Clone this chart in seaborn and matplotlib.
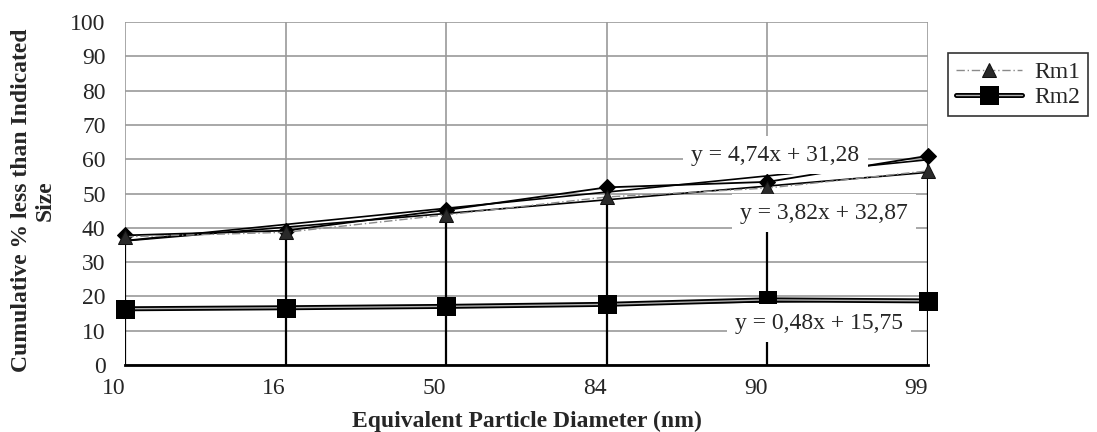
import numpy as np
import pandas as pd
import matplotlib
matplotlib.use("Agg")
import matplotlib.pyplot as plt
import matplotlib.patheffects as pe
import seaborn as sns

categories = ["10", "16", "50", "84", "90", "99"]
rm0 = [37.8, 39.2, 45.2, 51.8, 53.4, 61.0]   # diamond series (not in legend)
rm1 = [37.4, 38.7, 43.8, 49.0, 51.6, 56.6]   # triangles
rm2 = [16.4, 16.7, 17.1, 17.7, 19.0, 18.7]   # squares
eq_labels = ["y = 4,74x + 31,28", "y = 3,82x + 32,87", "y = 0,48x + 15,75"]
y_ticks = [0, 10, 20, 30, 40, 50, 60, 70, 80, 90, 100]

sns.set_theme(style="white")
plt.rcParams['font.family'] = ['Liberation Serif', 'DejaVu Serif']
FS = 17

fig = plt.figure(figsize=(10.97, 4.32), dpi=100)
ax = fig.add_axes([0.114, 0.155, 0.732, 0.794])

pos = np.arange(len(categories))
df = pd.DataFrame({"pos": pos, "rm0": rm0, "rm1": rm1, "rm2": rm2})

# grid
for yv in y_ticks:
    ax.axhline(yv, color="#9a9a9a", lw=1.2, zorder=0)
for xv in pos:
    ax.axvline(xv, color="#9a9a9a", lw=1.2, zorder=0)

# high-low drop lines
tops = np.maximum(np.maximum(rm0, rm1), rm2)
ax.vlines(pos, 0, tops, colors="black", lw=1.6, zorder=1)

# trendlines
for vals in (rm0, rm1, rm2):
    sns.regplot(x=pos, y=np.array(vals), scatter=False, ci=None, ax=ax,
                line_kws=dict(color="black", lw=1.2, zorder=2), truncate=True)

# series
sns.lineplot(data=df, x="pos", y="rm0", ax=ax, color="black", lw=1.3,
             marker="D", markersize=8, markerfacecolor="black",
             markeredgecolor="black", zorder=3, legend=False, clip_on=False)
sns.lineplot(data=df, x="pos", y="rm1", ax=ax, color="#8a8a8a", lw=1.0,
             linestyle=(0, (6, 2, 1, 2)), marker="^", markersize=10.5,
             markerfacecolor="#2a2a2a", markeredgecolor="#111111",
             zorder=4, label="Rm1", clip_on=False)
sns.lineplot(data=df, x="pos", y="rm2", ax=ax, color="#b0b0b0", lw=1.0,
             marker="s", markersize=10, markerfacecolor="black",
             markeredgecolor="black", zorder=4, label="Rm2", clip_on=False,
             path_effects=[pe.Stroke(linewidth=3.6, foreground="black"), pe.Normal()])

# equation labels
eq_pos = [(4.05, 61.2), (4.35, 44.3), (4.32, 12.2)]
for (xx, yy), t in zip(eq_pos, eq_labels):
    ax.text(xx, yy, t, ha="center", va="center", fontsize=FS, zorder=6,
            bbox=dict(boxstyle="square,pad=0.35", fc="white", ec="none"))

ax.set_xlim(0, 5)
ax.set_ylim(0, 100)
ax.set_xticks(pos)
ax.set_xticklabels(categories, ha="right")
ax.set_yticks(y_ticks)
ax.tick_params(axis="both", labelsize=FS, length=0)
ax.tick_params(axis="y", pad=14)
ax.tick_params(axis="x", pad=9)
for s in ["top", "right", "left"]:
    ax.spines[s].set_visible(False)
ax.spines["bottom"].set_color("black")
ax.spines["bottom"].set_linewidth(2)
ax.spines["bottom"].set_zorder(5)

ax.set_xlabel("Equivalent Particle Diameter (nm)", fontsize=FS, fontweight="bold")
ax.xaxis.set_label_coords(0.5, -0.132)
ax.set_ylabel("Cumulative % less than Indicated\nSize", fontsize=FS, fontweight="bold")
ax.yaxis.set_label_coords(-0.086, 0.48)

leg = ax.legend(loc="upper left", bbox_to_anchor=(0.864, 0.877), bbox_transform=fig.transFigure,
                fontsize=FS, frameon=True, fancybox=False, edgecolor="black",
                handlelength=2.8, borderpad=0.35, labelspacing=0.15, handletextpad=0.5,
                borderaxespad=0)
leg.get_frame().set_linewidth(1.2)

fig.savefig("out.png", dpi=100)
